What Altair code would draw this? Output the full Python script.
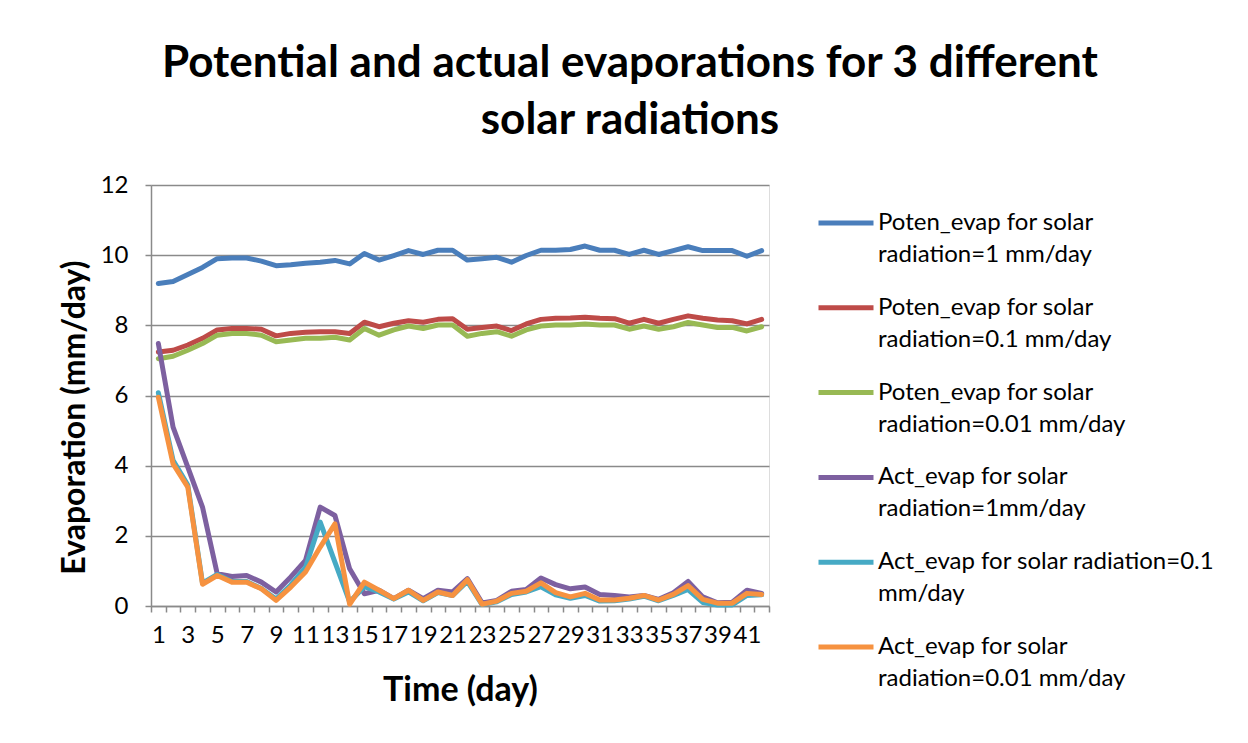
import altair as alt
import pandas as pd

days = list(range(1, 43))

poten_1 = [9.19, 9.25, 9.45, 9.65, 9.9, 9.92, 9.92, 9.83, 9.70, 9.73, 9.77, 9.80, 9.85, 9.75,
           10.05, 9.86, 9.99, 10.13, 10.02, 10.14, 10.14, 9.86, 9.90, 9.94, 9.80, 9.99, 10.14,
           10.14, 10.16, 10.26, 10.14, 10.14, 10.02, 10.14, 10.02, 10.13, 10.24, 10.13, 10.13,
           10.13, 9.97, 10.13]
poten_01 = [7.24, 7.29, 7.44, 7.63, 7.87, 7.91, 7.91, 7.89, 7.70, 7.77, 7.80, 7.82, 7.82, 7.77,
            8.09, 7.96, 8.06, 8.13, 8.09, 8.17, 8.19, 7.89, 7.94, 7.98, 7.85, 8.04, 8.17, 8.20,
            8.21, 8.23, 8.20, 8.19, 8.06, 8.17, 8.06, 8.17, 8.27, 8.20, 8.15, 8.13, 8.04, 8.17]
poten_001 = [7.05, 7.12, 7.29, 7.48, 7.72, 7.77, 7.77, 7.72, 7.53, 7.58, 7.63, 7.63, 7.66, 7.58,
             7.91, 7.72, 7.87, 7.98, 7.91, 8.01, 8.01, 7.69, 7.77, 7.82, 7.69, 7.87, 7.98, 8.01,
             8.01, 8.04, 8.01, 8.01, 7.89, 7.98, 7.89, 7.96, 8.08, 8.01, 7.94, 7.94, 7.84, 7.96]
act_1 = [7.48, 5.10, 3.96, 2.82, 0.92, 0.84, 0.87, 0.68, 0.40, 0.83, 1.30, 2.82, 2.58, 1.06,
         0.35, 0.45, 0.21, 0.45, 0.21, 0.45, 0.40, 0.78, 0.09, 0.16, 0.42, 0.47, 0.80, 0.61,
         0.49, 0.54, 0.33, 0.30, 0.26, 0.30, 0.19, 0.38, 0.70, 0.26, 0.09, 0.11, 0.45, 0.36]
act_01 = [6.08, 4.15, 3.45, 0.65, 0.90, 0.70, 0.70, 0.50, 0.20, 0.60, 1.10, 2.39, 1.25, 0.12,
          0.55, 0.40, 0.20, 0.40, 0.15, 0.38, 0.30, 0.70, 0.04, 0.12, 0.33, 0.40, 0.55, 0.32,
          0.22, 0.30, 0.14, 0.15, 0.20, 0.28, 0.15, 0.30, 0.47, 0.10, 0.03, 0.03, 0.30, 0.32]
act_001 = [5.95, 4.05, 3.39, 0.62, 0.87, 0.68, 0.68, 0.49, 0.16, 0.54, 0.97, 1.68, 2.34, 0.05,
           0.68, 0.45, 0.21, 0.45, 0.16, 0.40, 0.30, 0.75, 0.05, 0.14, 0.36, 0.42, 0.66, 0.38,
           0.26, 0.36, 0.17, 0.17, 0.22, 0.30, 0.17, 0.33, 0.58, 0.19, 0.08, 0.08, 0.36, 0.33]

series_names = [
    "Poten_evap for solar|radiation=1 mm/day",
    "Poten_evap for solar|radiation=0.1 mm/day",
    "Poten_evap for solar|radiation=0.01 mm/day",
    "Act_evap for solar|radiation=1mm/day",
    "Act_evap for solar radiation=0.1|mm/day",
    "Act_evap for solar|radiation=0.01 mm/day",
]
series_values = [poten_1, poten_01, poten_001, act_1, act_01, act_001]
colors = ["#4A7EBB", "#BE4B48", "#98B954", "#7D60A0", "#46AAC5", "#F69240"]

y_ticks = [0, 2, 4, 6, 8, 10, 12]

# second-line legend keys (distinct domain so the two legends stay separate)
series_names_b = ["#" + n for n in series_names]

rows = []
for name, name_b, vals in zip(series_names, series_names_b, series_values):
    for d, v in zip(days, vals):
        rows.append({"day": d, "value": v, "series": name, "series_b": name_b})
df = pd.DataFrame(rows)

FONT = "Lato"
GRID = "#8a8a8a"

x_values = [i / 2 for i in range(1, 86)]  # category boundaries and centres

x_enc = alt.X(
    "day:Q",
    scale=alt.Scale(domain=[0.5, 42.5], nice=False, zero=False),
    axis=alt.Axis(
        values=x_values,
        labelExpr="datum.value % 2 == 1 ? format(datum.value, 'd') : ''",
        labelOverlap=False,
        labelFlush=False,
        labelBound=False,
        tickColor={"condition": {"test": "datum.value % 1 != 0", "value": GRID}, "value": "transparent"},
        tickSize=6,
        tickWidth=1.5,
        labelPadding=11,
        labelFont=FONT,
        labelFontSize=24,
        labelColor="#000000",
        domainColor=GRID,
        domainWidth=1.5,
        grid=False,
        title="Time (day)",
        titleFont=FONT,
        titleFontSize=34,
        titleFontWeight="bold",
        titleColor="#000000",
        titleBaseline="middle",
        titleY=84,
    ),
)
y_enc = alt.Y(
    "value:Q",
    scale=alt.Scale(domain=[0, 12], nice=False),
    axis=alt.Axis(
        values=y_ticks,
        tickSize=6,
        tickWidth=1.5,
        tickColor=GRID,
        labelPadding=17,
        labelFont=FONT,
        labelFontSize=24,
        labelColor="#000000",
        domainColor=GRID,
        domainWidth=1.5,
        grid=True,
        gridColor=GRID,
        gridWidth=1.5,
        title="Evaporation (mm/day)",
        titleFont=FONT,
        titleFontSize=32,
        titleFontWeight="bold",
        titleColor="#000000",
        titleBaseline="middle",
        titleX=-77,
        titleY=232,
    ),
)

legend_common = dict(
    orient="none",
    legendX=665,
    title=None,
    labelFont=FONT,
    labelFontSize=24,
    labelColor="#000000",
    labelLimit=0,
    labelOffset=2,
    symbolSize=3025,
    symbolStrokeWidth=5,
    rowPadding=42.8,
    padding=0,
)

lines = alt.Chart(df).mark_line(strokeWidth=5, strokeCap="round", strokeJoin="round").encode(
    x=x_enc,
    y=y_enc,
    color=alt.Color(
        "series:N",
        scale=alt.Scale(domain=series_names, range=colors),
        legend=alt.Legend(
            legendY=8,
            labelExpr="split(datum.label, '|')[0]",
            symbolType="stroke",
            **legend_common,
        ),
    ),
)

second_lines = alt.Chart(df).mark_point(opacity=0, size=1).encode(
    x=x_enc,
    y=y_enc,
    shape=alt.Shape(
        "series_b:N",
        scale=alt.Scale(domain=series_names_b, range=["stroke"] * 6),
        legend=alt.Legend(
            legendY=40,
            labelExpr="split(datum.label, '|')[1]",
            symbolOpacity=0,
            **legend_common,
        ),
    ),
)

chart = alt.layer(lines, second_lines).properties(
    width=618,
    height=421,
    title=alt.TitleParams(
        text=["Potential and actual evaporations for 3 different", "solar radiations"],
        font=FONT,
        fontSize=44,
        fontWeight="bold",
        color="#000000",
        anchor="middle",
        frame="group",
        dx=170,
        offset=30,
        lineHeight=57,
    ),
    autosize=alt.AutoSizeParams(type="none"),
    padding={"left": 143, "top": 177, "right": 471, "bottom": 129},
).configure_view(stroke=None).configure(background="white")

chart.save("out.html", embed_options={"renderer": "svg", "actions": False})
